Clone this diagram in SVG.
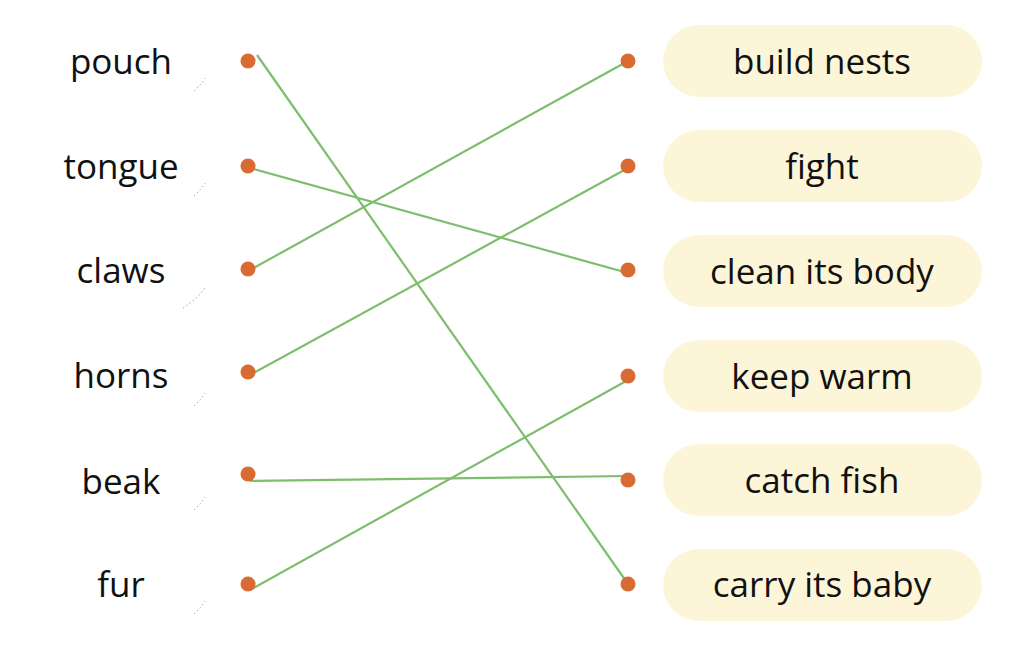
<svg xmlns="http://www.w3.org/2000/svg" width="1014" height="660" viewBox="0 0 1014 660">
<style>
.lbl{font-family:"Open Sans","Liberation Sans",sans-serif;font-size:35px;fill:#111;text-anchor:middle}
.pill{fill:#fdf5d8}
.dot{fill:#d96b32}
.ln{stroke:#7dbe6e;stroke-width:2.2;fill:none}
.arc{stroke:#999;stroke-width:1;stroke-dasharray:1.5 2.5;fill:none}
</style>
<rect width="1014" height="660" fill="#fff"/>
<g id="connectors">
<line class="ln" x1="257" y1="55" x2="628" y2="584"/>
<line class="ln" x1="250" y1="168" x2="628" y2="273"/>
<line class="ln" x1="250" y1="270" x2="628" y2="61"/>
<line class="ln" x1="250" y1="375" x2="628" y2="168"/>
<line class="ln" x1="250" y1="481" x2="628" y2="476"/>
<line class="ln" x1="250" y1="590" x2="628" y2="380"/>
</g>
<g id="left-pouch"><path class="arc" d="M194 91 Q201 85 205 78"/><text class="lbl" x="121" y="74">pouch</text><circle class="dot" cx="248" cy="61" r="7.5"/></g>
<g id="left-tongue"><path class="arc" d="M194 196 Q201 190 205 183"/><text class="lbl" x="121" y="179">tongue</text><circle class="dot" cx="248" cy="166" r="7.5"/></g>
<g id="left-claws"><path class="arc" d="M183 308 Q196 300 205 288"/><text class="lbl" x="121" y="283">claws</text><circle class="dot" cx="248" cy="269" r="7.5"/></g>
<g id="left-horns"><path class="arc" d="M194 406 Q201 400 205 393"/><text class="lbl" x="121" y="388">horns</text><circle class="dot" cx="248" cy="372" r="7.5"/></g>
<g id="left-beak"><path class="arc" d="M194 510 Q201 504 205 497"/><text class="lbl" x="121" y="494">beak</text><circle class="dot" cx="248" cy="474" r="7.5"/></g>
<g id="left-fur"><path class="arc" d="M194 614 Q201 608 205 601"/><text class="lbl" x="121" y="597">fur</text><circle class="dot" cx="248" cy="584" r="7.5"/></g>
<g id="right-build-nests"><circle class="dot" cx="628" cy="61" r="7.5"/><rect class="pill" x="663" y="25" width="319" height="72" rx="36"/><text class="lbl" x="822" y="74">build nests</text></g>
<g id="right-fight"><circle class="dot" cx="628" cy="166" r="7.5"/><rect class="pill" x="663" y="130" width="319" height="72" rx="36"/><text class="lbl" x="822" y="179">fight</text></g>
<g id="right-clean"><circle class="dot" cx="628" cy="270" r="7.5"/><rect class="pill" x="663" y="235" width="319" height="72" rx="36"/><text class="lbl" x="822" y="284">clean its body</text></g>
<g id="right-keep-warm"><circle class="dot" cx="628" cy="376" r="7.5"/><rect class="pill" x="663" y="340" width="319" height="72" rx="36"/><text class="lbl" x="822" y="389">keep warm</text></g>
<g id="right-catch-fish"><circle class="dot" cx="628" cy="480" r="7.5"/><rect class="pill" x="663" y="444" width="319" height="72" rx="36"/><text class="lbl" x="822" y="493">catch fish</text></g>
<g id="right-carry"><circle class="dot" cx="628" cy="584" r="7.5"/><rect class="pill" x="663" y="549" width="319" height="72" rx="36"/><text class="lbl" x="822" y="597">carry its baby</text></g>
</svg>
